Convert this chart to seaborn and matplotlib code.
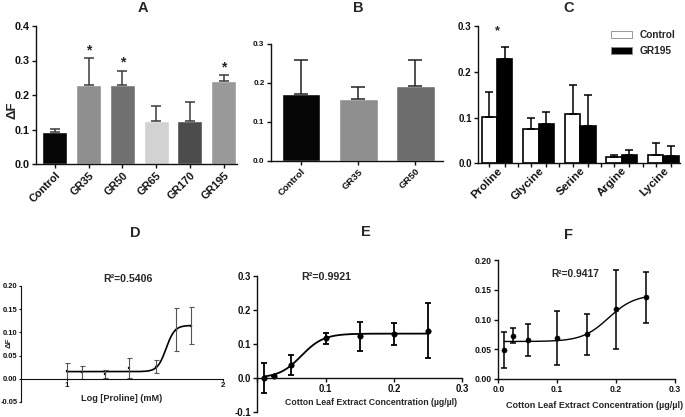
import numpy as np
import pandas as pd
import matplotlib
matplotlib.use("Agg")
import matplotlib.pyplot as plt
from matplotlib.container import BarContainer
import seaborn as sns

# ---------------- data ----------------
a_cats = ["Control", "GR35", "GR50", "GR65", "GR170", "GR195"]
a_vals = [0.094, 0.230, 0.230, 0.126, 0.124, 0.241]
a_err = [0.008, 0.077, 0.040, 0.042, 0.056, 0.016]
a_colors = ["#050505", "#8f8f8f", "#707070", "#d2d2d2", "#4c4c4c", "#999999"]
a_star = ["GR35", "GR50", "GR195"]

b_cats = ["Control", "GR35", "GR50"]
b_vals = [0.172, 0.159, 0.193]
b_err = [0.086, 0.031, 0.065]
b_colors = ["#050505", "#8f8f8f", "#6d6d6d"]

c_cats = ["Proline", "Glycine", "Serine", "Argine", "Lycine"]
c_groups = ["Control", "GR195"]
c_ctrl = [0.101, 0.075, 0.107, 0.013, 0.019]
c_ctrl_err = [0.055, 0.024, 0.065, 0.005, 0.026]
c_gr = [0.228, 0.086, 0.081, 0.019, 0.015]
c_gr_err = [0.027, 0.026, 0.068, 0.011, 0.022]

d_x = [1.0, 1.097, 1.243, 1.398, 1.574, 1.699, 1.796]
d_y = [0.016, 0.014, 0.011, 0.023, 0.026, 0.106, 0.114]
d_err = [0.017, 0.014, 0.009, 0.022, 0.014, 0.046, 0.040]
d_fit = dict(bottom=0.0155, top=0.115, mid=1.637, k=36.5)
d_r2 = "R²=0.5406"

e_x = [0.01, 0.025, 0.05, 0.10, 0.15, 0.20, 0.25]
e_y = [0.000, 0.007, 0.038, 0.117, 0.122, 0.130, 0.139]
e_err = [0.043, 0.0, 0.029, 0.016, 0.042, 0.032, 0.080]
e_fit = dict(bottom=0.0, top=0.13, mid=0.0645, k=61.8)
e_r2 = "R²=0.9921"

f_x = [0.01, 0.025, 0.05, 0.10, 0.15, 0.20, 0.25]
f_y = [0.049, 0.073, 0.065, 0.069, 0.075, 0.117, 0.137]
f_err = [0.030, 0.012, 0.027, 0.046, 0.035, 0.066, 0.043]
f_fit = dict(bottom=0.063, top=0.142, mid=0.187, k=45.0)
f_r2 = "R²=0.9417"

xlabel_conc = "Cotton Leaf Extract Concentration (µg/µl)"

# ---------------- style ----------------
sns.set_theme(style="ticks")
plt.rcParams["font.family"] = ["Liberation Sans", "DejaVu Sans"]
plt.rcParams["font.weight"] = "bold"
plt.rcParams["axes.linewidth"] = 1.0
plt.rcParams["xtick.major.width"] = 1.0
plt.rcParams["ytick.major.width"] = 1.0
plt.rcParams["xtick.color"] = "#111111"
plt.rcParams["ytick.color"] = "#111111"
plt.rcParams["axes.edgecolor"] = "#111111"

W, H = 685, 417
fig = plt.figure(figsize=(W / 100, H / 100), dpi=100)


def box(x0, y0, x1, y1):
    return [x0 / W, 1 - y1 / H, (x1 - x0) / W, (y1 - y0) / H]


def ftext(x, y, s, **kw):
    fig.text(x / W, 1 - y / H, s, ha="center", va="center", fontweight="bold", **kw)


def clean(ax):
    sns.despine(ax=ax)
    ax.tick_params(length=3, pad=1.5)


def logistic(x, p):
    x = np.asarray(x)
    return p["bottom"] + (p["top"] - p["bottom"]) / (1 + np.exp(-p["k"] * (x - p["mid"])))


# ---------------- A ----------------
axA = fig.add_axes(box(36, 26, 237, 164))
dfA = pd.DataFrame({"cat": a_cats, "val": a_vals})
sns.barplot(data=dfA, x="cat", y="val", hue="cat", palette=a_colors, legend=False,
            saturation=1, width=0.74, ax=axA)
axA.errorbar(range(len(a_cats)), a_vals, yerr=[np.zeros(len(a_err)), a_err], fmt="none",
             ecolor="#3a3a3a", elinewidth=1.1, capsize=3.5, capthick=1.1)
for c in a_star:
    i = a_cats.index(c)
    axA.text(i, a_vals[i] + a_err[i] + 0.003, "*", ha="center", va="bottom",
             fontsize=10, fontweight="bold")
clean(axA)
axA.set_xlim(-0.56, 5.4)
axA.set_ylim(0, 0.4)
axA.set_yticks([0.0, 0.1, 0.2, 0.3, 0.4])
axA.set_yticklabels(["0.0", "0.1", "0.2", "0.3", "0.4"], fontsize=7.8, fontweight="bold")
axA.set_xticks(range(len(a_cats)))
axA.set_xticklabels(a_cats, rotation=45, ha="right", rotation_mode="anchor",
                    fontsize=7.8, fontweight="bold")
axA.set_xlabel("")
axA.set_ylabel("ΔF", fontsize=9.5, fontweight="bold")
axA.yaxis.label.set_va("center")
axA.yaxis.set_label_coords(-0.116, 0.39)
ftext(142.7, 8, "A", fontsize=10.5)

# ---------------- B ----------------
axB = fig.add_axes(box(270.7, 44, 443.3, 160.7))
dfB = pd.DataFrame({"cat": b_cats, "val": b_vals})
sns.barplot(data=dfB, x="cat", y="val", hue="cat", palette=b_colors, legend=False,
            saturation=1, width=0.68, ax=axB)
axB.errorbar(range(len(b_cats)), b_vals, yerr=[np.zeros(len(b_err)), b_err], fmt="none",
             ecolor="#222222", elinewidth=1.1, capsize=5, capthick=1.1)
clean(axB)
axB.set_xlim(-0.53, 2.49)
axB.set_ylim(0, 0.3)
axB.set_yticks([0.0, 0.1, 0.2, 0.3])
axB.set_yticklabels(["0.0", "0.1", "0.2", "0.3"], fontsize=5.8, fontweight="bold")
axB.set_xticks(range(len(b_cats)))
axB.set_xticklabels(b_cats, rotation=45, ha="right", rotation_mode="anchor",
                    fontsize=6.8, fontweight="bold")
axB.set_xlabel("")
axB.set_ylabel("")
ftext(358.5, 7.5, "B", fontsize=10.5)

# ---------------- C ----------------
axC = fig.add_axes(box(478, 26, 680, 163.3))
dfC = pd.DataFrame({
    "aa": c_cats * 2,
    "grp": [c_groups[0]] * len(c_cats) + [c_groups[1]] * len(c_cats),
    "val": c_ctrl + c_gr,
})
sns.barplot(data=dfC, x="aa", y="val", hue="grp", hue_order=c_groups,
            palette={"Control": "white", "GR195": "black"}, saturation=1,
            edgecolor="black", linewidth=1.2, width=0.74, ax=axC)
errs = [c_ctrl_err, c_gr_err]
vals = [c_ctrl, c_gr]
bar_conts = [c for c in axC.containers if isinstance(c, BarContainer)]
bar_centers = []
for gi, cont in enumerate(bar_conts):
    xs = [p.get_x() + p.get_width() / 2 for p in cont.patches]
    bar_centers += xs
    axC.errorbar(xs, vals[gi], yerr=[np.zeros(len(errs[gi])), errs[gi]], fmt="none",
                 ecolor="black", elinewidth=1.1, capsize=3, capthick=1.1)
axC.text(0, c_gr[0] + c_gr_err[0] + 0.02, "*", ha="center", va="bottom",
         fontsize=9, fontweight="bold")
clean(axC)
axC.set_xlim(-0.46, 4.4)
axC.set_ylim(0, 0.3)
axC.set_yticks([0.0, 0.1, 0.2, 0.3])
axC.set_yticklabels(["0.0", "0.1", "0.2", "0.3"], fontsize=7.0, fontweight="bold")
axC.set_xticks(range(len(c_cats)))
axC.set_xticklabels(c_cats, rotation=45, ha="right", rotation_mode="anchor",
                    fontsize=8.2, fontweight="bold")
minor = sorted(bar_centers + [i + 0.5 for i in range(len(c_cats) - 1)])
axC.set_xticks(minor, minor=True)
axC.set_xlabel("")
axC.set_ylabel("")
leg = axC.legend(loc="upper left", bbox_to_anchor=(0.64, 1.0), frameon=False,
                 fontsize=7.3, handlelength=2.0, handleheight=0.8, borderaxespad=0,
                 labelspacing=0.6, handletextpad=0.8)
for t in leg.get_texts():
    t.set_fontweight("bold")
for h in leg.legend_handles:
    h.set_linewidth(0.6)
    h.set_edgecolor("#888888")
axC.tick_params(axis="x", which="major", length=0)
axC.tick_params(axis="x", which="minor", length=3, width=1.0)
ftext(568.5, 8, "C", fontsize=10.5)

# ---------------- D ----------------
axD = fig.add_axes(box(20.7, 286, 222.7, 402))
xd = np.linspace(min(d_x), max(d_x), 300)
sns.lineplot(x=xd, y=logistic(xd, d_fit), color="black", linewidth=1.2, ax=axD)
axD.errorbar(d_x, d_y, yerr=d_err, fmt="none", ecolor="#555555", elinewidth=0.8,
             capsize=1.8, capthick=0.8)
sns.scatterplot(x=d_x, y=d_y, marker="s", s=4, color="black", edgecolor="black", ax=axD)
clean(axD)
axD.spines["bottom"].set_position(("data", 0))
axD.tick_params(length=1.6, width=0.8, pad=0.6)
axD.spines["left"].set_linewidth(0.8)
axD.spines["bottom"].set_linewidth(0.8)
axD.set_xlim(0.705, 2.0)
axD.set_ylim(-0.05, 0.20)
axD.set_yticks([-0.05, 0.0, 0.05, 0.10, 0.15, 0.20])
axD.set_yticklabels(["-0.05", "0.00", "0.05", "0.10", "0.15", "0.20"], fontsize=5.4,
                    fontweight="bold")
axD.set_xticks([1, 2])
axD.set_xticklabels(["1", "2"], fontsize=5.8, fontweight="bold")
axD.set_xlabel("Log [Proline] (mM)", fontsize=6.6, fontweight="bold")
axD.xaxis.label.set_va("center")
axD.xaxis.set_label_coords(0.50, 0.034)
axD.set_ylabel("ΔF", fontsize=5.6, fontweight="bold")
axD.yaxis.label.set_va("center")
axD.yaxis.set_label_coords(-0.055, 0.515)
ftext(135, 233.5, "D", fontsize=10.5)
ftext(128.3, 279.5, d_r2, fontsize=7.6)

# ---------------- E ----------------
axE = fig.add_axes(box(257.3, 275.7, 462.3, 412))
xe = np.linspace(min(e_x), max(e_x), 300)
sns.lineplot(x=xe, y=logistic(xe, e_fit), color="black", linewidth=1.3, ax=axE)
axE.errorbar(e_x, e_y, yerr=e_err, fmt="none", ecolor="black", elinewidth=1.3,
             capsize=2.3, capthick=1.3)
sns.scatterplot(x=e_x, y=e_y, marker="o", s=16, color="black", edgecolor="black", ax=axE)
clean(axE)
axE.spines["bottom"].set_position(("data", 0))
axE.tick_params(length=3, pad=1.5)
axE.set_xlim(0, 0.3)
axE.set_ylim(-0.1, 0.3)
axE.set_yticks([-0.1, 0.0, 0.1, 0.2, 0.3])
axE.set_yticklabels(["-0.1", "0.0", "0.1", "0.2", "0.3"], fontsize=6.9, fontweight="bold")
axE.set_xticks([0.0, 0.1, 0.2, 0.3])
axE.set_xticklabels(["", "0.1", "0.2", "0.3"], fontsize=6.9, fontweight="bold")
axE.set_xlabel(xlabel_conc, fontsize=6.3, fontweight="bold")
axE.xaxis.label.set_va("center")
axE.xaxis.set_label_coords(0.553, 0.068)
axE.set_ylabel("")
ftext(366, 232.5, "E", fontsize=10.5)
ftext(326.7, 277.5, e_r2, fontsize=7.7)

# ---------------- F ----------------
axF = fig.add_axes(box(498.3, 260, 675, 379))
xf = np.linspace(min(f_x), max(f_x), 300)
sns.lineplot(x=xf, y=logistic(xf, f_fit), color="black", linewidth=1.0, ax=axF)
axF.errorbar(f_x, f_y, yerr=f_err, fmt="none", ecolor="black", elinewidth=1.1,
             capsize=2.0, capthick=1.1)
sns.scatterplot(x=f_x, y=f_y, marker="o", s=14, color="black", edgecolor="black", ax=axF)
clean(axF)
axF.set_xlim(0, 0.3)
axF.set_ylim(0, 0.20)
axF.set_yticks([0.0, 0.05, 0.10, 0.15, 0.20])
axF.set_yticklabels(["0.00", "0.05", "0.10", "0.15", "0.20"], fontsize=6.2, fontweight="bold")
axF.set_xticks([0.0, 0.1, 0.2, 0.3])
axF.set_xticklabels(["0.0", "0.1", "0.2", "0.3"], fontsize=6.2, fontweight="bold")
axF.set_xlabel(xlabel_conc, fontsize=6.5, fontweight="bold")
axF.xaxis.label.set_va("center")
axF.xaxis.set_label_coords(0.547, -0.224)
axF.set_ylabel("")
ftext(568.5, 235, "F", fontsize=10.5)
ftext(575, 274, f_r2, fontsize=7.4)

fig.savefig("out.png", dpi=100)
